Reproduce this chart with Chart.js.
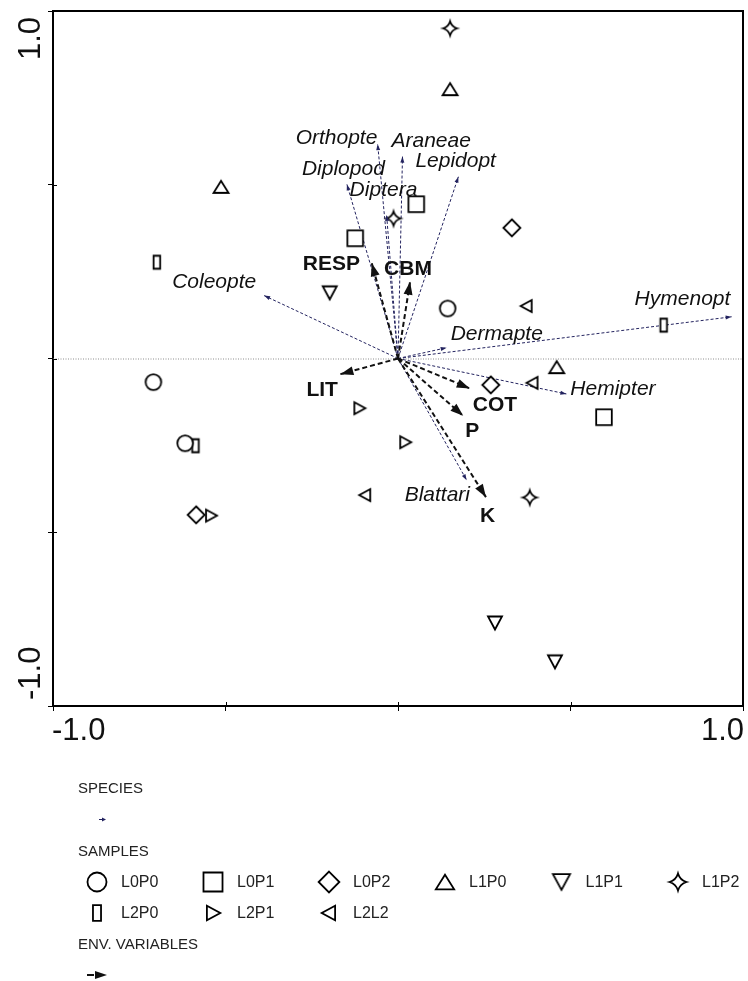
<!DOCTYPE html>
<html>
<head>
<meta charset="utf-8">
<script src="https://cdn.jsdelivr.net/npm/chart.js@4.4.0/dist/chart.umd.min.js"></script>
<style>
  html, body { margin: 0; padding: 0; background: #fff; }
  canvas { display: block; }
</style>
</head>
<body>
<canvas id="cca" width="748" height="981"></canvas>
<script>
// ordination scores (axis 1 = x, axis 2 = y)
const sampleGroups = ['L0P0', 'L0P1', 'L0P2', 'L1P0', 'L1P1', 'L1P2', 'L2P0', 'L2P1', 'L2L2'];
const sampleX = [
  [-0.709, -0.617, 0.144],
  [-0.124, 0.053, 0.597],
  [0.330, 0.269, -0.585],
  [0.151, -0.513, 0.460],
  [-0.198, 0.281, 0.455],
  [0.151, -0.013, 0.382],
  [-0.699, -0.587, 0.770],
  [-0.112, 0.021, -0.542],
  [0.373, 0.390, -0.095]
];
const sampleY = [
  [-0.068, -0.244, 0.144],
  [0.346, 0.444, -0.169],
  [0.376, -0.076, -0.450],
  [0.775, 0.494, -0.025],
  [0.189, -0.761, -0.873],
  [0.950, 0.403, -0.400],
  [0.277, -0.251, 0.096],
  [-0.143, -0.241, -0.452],
  [0.151, -0.070, -0.393]
];

const speciesNames = ['Orthopte', 'Araneae', 'Lepidopt', 'Diplopod', 'Diptera', 'Coleopte', 'Hymenopt', 'Dermapte', 'Hemipter', 'Blattari'];
const speciesX = [-0.059, 0.013, 0.175, -0.148, -0.033, -0.388, 0.967, 0.141, 0.488, 0.199];
const speciesY = [0.617, 0.581, 0.523, 0.501, 0.413, 0.181, 0.120, 0.031, -0.102, -0.350];

const envNames = ['RESP', 'CBM', 'LIT', 'COT', 'P', 'K'];
const envX = [-0.076, 0.035, -0.167, 0.208, 0.189, 0.255];
const envY = [0.274, 0.221, -0.045, -0.086, -0.165, -0.399];

const axisMin = -1, axisMax = 1;
const axisLabels = ['-1.0', '1.0'];
const innerTicks = [-0.5, 0, 0.5];

// label placement, pixel offset of text start/baseline from arrow tip
const speciesLabelOff = [[-82, 0], [-11, -10], [-43, -10], [-45, -9], [-37, -19], [-92, -8], [-97, -12], [4, -8], [4, 1], [-62, 21]];
const envLabelOff = [[-69, 7], [-26, -7], [-34, 22], [3, 23], [2, 21], [-6, 25]];

const groupShapes = ['circle', 'square', 'diamond', 'triUp', 'triDown', 'star', 'bar', 'triRight', 'triLeft'];
const FONT = "'Liberation Sans', Arial, sans-serif";
const SPECIES_COL = '#23235f';

function marker(shape, k) {
  const s = Math.ceil(24 * k);
  const c = document.createElement('canvas');
  c.width = s; c.height = s;
  const g = c.getContext('2d');
  const m = s / 2;
  g.lineWidth = 1.8;
  g.strokeStyle = '#000';
  g.fillStyle = '#fff';
  g.beginPath();
  switch (shape) {
    case 'circle':
      g.arc(m, m, 7.8 * k, 0, Math.PI * 2);
      break;
    case 'square':
      g.rect(m - 7.8 * k, m - 7.8 * k, 15.6 * k, 15.6 * k);
      break;
    case 'diamond':
      g.moveTo(m, m - 8.5 * k); g.lineTo(m + 8.5 * k, m);
      g.lineTo(m, m + 8.5 * k); g.lineTo(m - 8.5 * k, m);
      break;
    case 'triUp':
      g.moveTo(m, m - 6 * k); g.lineTo(m + 7.5 * k, m + 6 * k); g.lineTo(m - 7.5 * k, m + 6 * k);
      break;
    case 'triDown':
      g.moveTo(m - 7 * k, m - 6.5 * k); g.lineTo(m + 7 * k, m - 6.5 * k); g.lineTo(m, m + 6.5 * k);
      break;
    case 'triRight':
      g.moveTo(m - 5 * k, m - 6 * k); g.lineTo(m + 6 * k, m); g.lineTo(m - 5 * k, m + 6 * k);
      break;
    case 'triLeft':
      g.moveTo(m + 5 * k, m - 6 * k); g.lineTo(m - 6 * k, m); g.lineTo(m + 5 * k, m + 6 * k);
      break;
    case 'bar':
      g.rect(m - 3.3 * k, m - 6.5 * k, 6.6 * k, 13 * k);
      break;
    case 'star': {
      const r = 7 * k, q = 1.6 * k;
      g.moveTo(m, m - r);
      g.quadraticCurveTo(m + q, m - q, m + r, m);
      g.quadraticCurveTo(m + q, m + q, m, m + r);
      g.quadraticCurveTo(m - q, m + q, m - r, m);
      g.quadraticCurveTo(m - q, m - q, m, m - r);
      break;
    }
  }
  g.closePath();
  g.fill();
  g.stroke();
  return c;
}

const plotMarkers = groupShapes.map(s => marker(s, 1));
const legendMarkers = groupShapes.map(s => marker(s, 1.22));

function arrowHead(ctx, x0, y0, x1, y1, len, wid, color) {
  const a = Math.atan2(y1 - y0, x1 - x0);
  ctx.save();
  ctx.translate(x1, y1);
  ctx.rotate(a);
  ctx.beginPath();
  ctx.moveTo(0, 0);
  ctx.lineTo(-len, wid / 2);
  ctx.lineTo(-len, -wid / 2);
  ctx.closePath();
  ctx.fillStyle = color;
  ctx.fill();
  ctx.restore();
}

const datasets = [];
sampleGroups.forEach((name, i) => {
  datasets.push({
    label: name,
    data: sampleX[i].map((x, j) => ({ x: x, y: sampleY[i][j] })),
    pointStyle: plotMarkers[i],
    order: 0
  });
});
envNames.forEach((name, i) => {
  datasets.push({
    label: name,
    data: [{ x: 0, y: 0 }, { x: envX[i], y: envY[i] }],
    showLine: true,
    borderColor: '#111',
    borderWidth: 2,
    borderDash: [5, 3],
    pointRadius: 0,
    order: 1
  });
});
speciesNames.forEach((name, i) => {
  datasets.push({
    label: name,
    data: [{ x: 0, y: 0 }, { x: speciesX[i], y: speciesY[i] }],
    showLine: true,
    borderColor: SPECIES_COL,
    borderWidth: 1,
    borderDash: [3, 2],
    pointRadius: 0,
    order: 2
  });
});

const framePlugin = {
  id: 'frame',
  beforeDatasetsDraw(chart) {
    const { ctx, chartArea: a, scales } = chart;
    const y0 = scales.y.getPixelForValue(0);
    ctx.save();
    ctx.strokeStyle = '#8c8c8c';
    ctx.lineWidth = 1;
    ctx.setLineDash([1, 1.5]);
    ctx.beginPath();
    ctx.moveTo(a.left, y0 + 0.5);
    ctx.lineTo(a.right, y0 + 0.5);
    ctx.stroke();
    ctx.setLineDash([]);
    ctx.strokeStyle = '#000';
    ctx.lineWidth = 2;
    ctx.beginPath();
    ctx.moveTo(a.left, a.top);
    ctx.lineTo(a.right, a.top);
    ctx.lineTo(a.right, a.bottom);
    ctx.stroke();
    // short inward part of the tick marks
    ctx.lineWidth = 1;
    ctx.beginPath();
    innerTicks.forEach(v => {
      const px = Math.round(scales.x.getPixelForValue(v)) + 0.5;
      const py = Math.round(scales.y.getPixelForValue(v)) + 0.5;
      ctx.moveTo(px, a.bottom); ctx.lineTo(px, a.bottom - 4);
      ctx.moveTo(a.left, py); ctx.lineTo(a.left + 4, py);
    });
    ctx.stroke();
    ctx.restore();
  }
};

const overlayPlugin = {
  id: 'overlay',
  afterDatasetsDraw(chart) {
    const { ctx, chartArea: a, scales } = chart;
    const sx = scales.x, sy = scales.y;
    const ox = sx.getPixelForValue(0), oy = sy.getPixelForValue(0);
    ctx.save();

    // species arrows: heads + italic names
    ctx.font = 'italic 21px ' + FONT;
    ctx.textBaseline = 'alphabetic';
    ctx.textAlign = 'left';
    speciesNames.forEach((name, i) => {
      const px = sx.getPixelForValue(speciesX[i]), py = sy.getPixelForValue(speciesY[i]);
      arrowHead(ctx, ox, oy, px, py, 6, 4, SPECIES_COL);
      ctx.fillStyle = '#111';
      ctx.fillText(name, px + speciesLabelOff[i][0], py + speciesLabelOff[i][1]);
    });

    // environmental arrows: heads + bold names
    ctx.font = 'bold 21px ' + FONT;
    envNames.forEach((name, i) => {
      const px = sx.getPixelForValue(envX[i]), py = sy.getPixelForValue(envY[i]);
      arrowHead(ctx, ox, oy, px, py, 13, 9, '#111');
      ctx.fillStyle = '#111';
      ctx.fillText(name, px + envLabelOff[i][0], py + envLabelOff[i][1]);
    });

    // axis end labels
    ctx.font = '31px ' + FONT;
    ctx.fillStyle = '#111';
    ctx.textAlign = 'left';
    ctx.fillText(axisLabels[0], sx.getPixelForValue(axisMin) - 1, a.bottom + 34);
    ctx.textAlign = 'right';
    ctx.fillText(axisLabels[1], sx.getPixelForValue(axisMax) + 1, a.bottom + 34);
    ctx.save();
    ctx.translate(a.left - 13, sy.getPixelForValue(axisMax) + 6);
    ctx.rotate(-Math.PI / 2);
    ctx.textAlign = 'right';
    ctx.fillText(axisLabels[1], 0, 0);
    ctx.restore();
    ctx.save();
    ctx.translate(a.left - 13, sy.getPixelForValue(axisMin) - 6);
    ctx.rotate(-Math.PI / 2);
    ctx.textAlign = 'left';
    ctx.fillText(axisLabels[0], 0, 0);
    ctx.restore();

    // legend block
    const lx = 78;
    ctx.textAlign = 'left';
    ctx.textBaseline = 'middle';
    ctx.fillStyle = '#222';
    ctx.font = '15px ' + FONT;
    ctx.fillText('SPECIES', lx, 789);
    ctx.fillText('SAMPLES', lx, 852);
    ctx.fillText('ENV. VARIABLES', lx, 945);

    ctx.strokeStyle = SPECIES_COL;
    ctx.lineWidth = 1;
    ctx.beginPath();
    ctx.moveTo(99, 819.5); ctx.lineTo(103, 819.5);
    ctx.stroke();
    arrowHead(ctx, 99, 819.5, 106, 819.5, 4, 4, SPECIES_COL);

    ctx.strokeStyle = '#111';
    ctx.lineWidth = 2;
    ctx.beginPath();
    ctx.moveTo(87, 975); ctx.lineTo(94, 975);
    ctx.stroke();
    arrowHead(ctx, 87, 975, 107, 975, 12, 8, '#111');

    const colX = [97, 213, 329, 445, 561.5, 678];
    const rowY = [882, 913];
    ctx.font = '16px ' + FONT;
    ctx.fillStyle = '#222';
    sampleGroups.forEach((name, i) => {
      const r = Math.floor(i / 6), c = i % 6;
      const img = legendMarkers[i];
      ctx.drawImage(img, colX[c] - img.width / 2, rowY[r] - img.height / 2);
      ctx.fillText(name, colX[c] + 24, rowY[r] + 1);
    });
    ctx.restore();
  }
};

const axisStyle = {
  type: 'linear',
  min: axisMin,
  max: axisMax,
  ticks: { display: false, stepSize: 0.5 },
  grid: { drawOnChartArea: false, drawTicks: true, tickLength: 5, color: '#000', lineWidth: 1 },
  border: { color: '#000', width: 2 }
};

new Chart(document.getElementById('cca'), {
  type: 'scatter',
  data: { datasets: datasets },
  options: {
    responsive: false,
    animation: false,
    layout: { padding: { left: 48, top: 11, right: -3, bottom: 270 } },
    scales: { x: axisStyle, y: Object.assign({}, axisStyle) },
    plugins: { legend: { display: false }, tooltip: { enabled: false } }
  },
  plugins: [framePlugin, overlayPlugin]
});
</script>
</body>
</html>
